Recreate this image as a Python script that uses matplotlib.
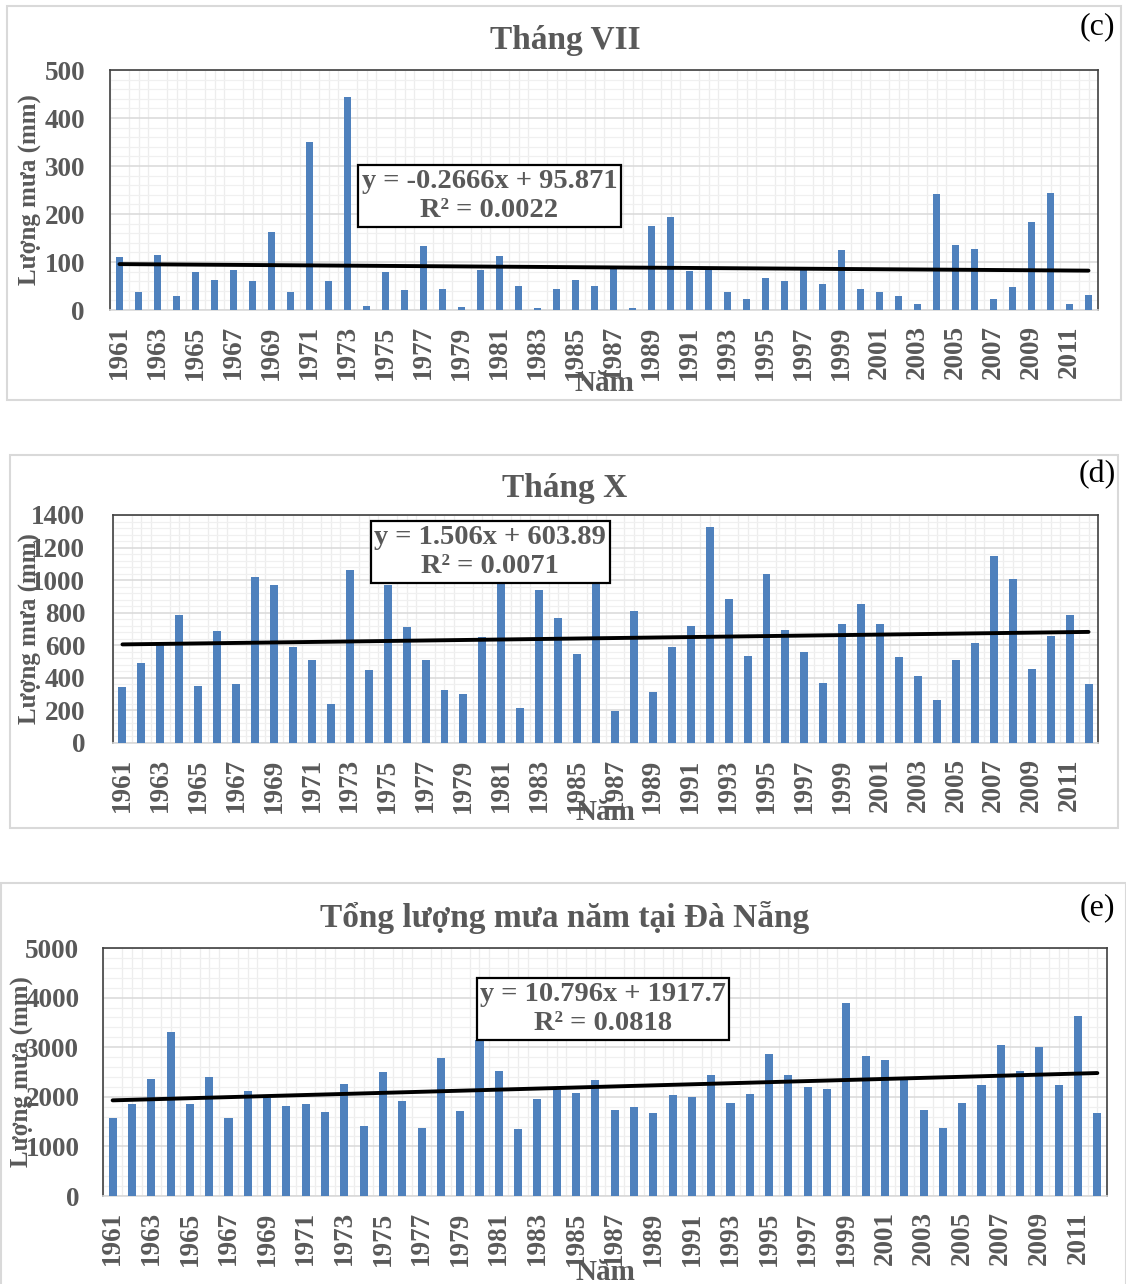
import numpy as np
import matplotlib
matplotlib.use("Agg")
import matplotlib.pyplot as plt
from matplotlib.patches import Rectangle
from matplotlib.ticker import MultipleLocator

plt.rcParams['font.family'] = ['Liberation Serif', 'DejaVu Serif']

years = list(range(1961, 2013))

# luong mua thang VII (mm)
thang7 = [110, 37, 115, 30, 79, 62, 83, 60, 163, 37,
          350, 60, 443, 9, 79, 41, 134, 43, 6, 83,
          112, 49, 4, 43, 62, 51, 86, 4, 174, 193,
          81, 90, 37, 23, 66, 60, 83, 54, 126, 43,
          37, 30, 13, 241, 136, 128, 23, 47, 184, 243,
          13, 32]

# luong mua thang X (mm)
thang10 = [342, 492, 621, 784, 348, 687, 360, 1017, 973, 587,
           508, 239, 1064, 449, 969, 712, 508, 323, 298, 652,
           1010, 214, 938, 766, 549, 1000, 198, 813, 311, 587,
           718, 1327, 885, 533, 1035, 694, 558, 370, 731, 856,
           731, 527, 412, 263, 508, 617, 1148, 1004, 455, 659,
           784, 364]

# tong luong mua nam (mm)
tong_nam = [1578, 1862, 2367, 3305, 1862, 2408, 1578, 2111, 1976, 1814,
            1862, 1686, 2266, 1410, 2496, 1922, 1362, 2792, 1706, 3150,
            2516, 1342, 1963, 2145, 2071, 2347, 1727, 1794, 1666, 2044,
            2003, 2448, 1875, 2064, 2853, 2448, 2192, 2152, 3899, 2813,
            2752, 2350, 1727, 1362, 1875, 2239, 3049, 2516, 3008, 2239,
            3622, 1666]

# duong xu the tuyen tinh: he so goc, he so tu do, R2
trend7 = (-0.2666, 95.871, 0.0022)
trend10 = (1.506, 603.89, 0.0071)
trend_nam = (10.796, 1917.7, 0.0818)

W, H = 1126, 1284
fig = plt.figure(figsize=(W / 100, H / 100), dpi=100)

gray = '#595959'
blue = '#4f81bd'


def px_rect(x0, y0, x1, y1):
    return [x0 / W, 1 - y1 / H, (x1 - x0) / W, (y1 - y0) / H]


def panel(box, frame, values, coef, ymax, ystep, title, tag, title_y, tag_y,
          eq_pos, xlab_y, ylab_x, ypad):
    # khung ngoai cua bieu do
    fx0, fy0, fx1, fy1 = frame
    fig.patches.append(Rectangle((fx0 / W, 1 - fy1 / H), (fx1 - fx0) / W,
                                 (fy1 - fy0) / H, transform=fig.transFigure,
                                 fill=False, edgecolor='#d9d9d9', lw=1.5))
    ax = fig.add_axes(px_rect(*box))
    x = np.arange(len(values))
    ax.bar(x, values, width=0.42, color=blue, zorder=3)
    slope, icpt, r2 = coef
    xi = x + 1
    ax.plot(x, slope * xi + icpt, color='black', lw=2.8, zorder=4,
            solid_capstyle='round')

    ax.set_xlim(-0.5, len(values) - 0.5)
    ax.set_ylim(0, ymax)
    ax.yaxis.set_major_locator(MultipleLocator(ystep))
    ax.yaxis.set_minor_locator(MultipleLocator(ystep / 5))
    ax.set_xticks(x[::2])
    ax.set_xticklabels([str(y) for y in years[::2]], rotation=90,
                       fontsize=19.5, fontweight='bold', color=gray)
    ax.set_xticks(np.arange(-0.5, len(values), 0.5), minor=True)
    for lab in ax.get_yticklabels():
        lab.set_fontsize(19.5)
        lab.set_fontweight('bold')
        lab.set_color(gray)
    ax.tick_params(axis='both', which='both', length=0)
    ax.tick_params(axis='y', pad=ypad)
    ax.tick_params(axis='x', pad=11)

    ax.grid(axis='y', which='major', color='#d9d9d9', lw=1.1, zorder=0)
    ax.grid(axis='y', which='minor', color='#f0f0f0', lw=0.9, zorder=0)
    ax.grid(axis='x', which='minor', color='#ededed', lw=0.9, zorder=0)
    ax.set_axisbelow(True)
    for side in ['left', 'top', 'right']:
        ax.spines[side].set_color('#404040')
        ax.spines[side].set_linewidth(1.2)
    ax.spines['bottom'].set_color('#d9d9d9')
    ax.spines['bottom'].set_linewidth(1.2)

    sign = '-' if slope < 0 else ''
    eq = f"y = {sign}{abs(slope)}x + {icpt}\nR² = {r2}"
    ax.text(eq_pos[0], eq_pos[1], eq, transform=ax.transAxes, ha='center',
            va='center', fontsize=20.5, fontweight='bold', color=gray,
            linespacing=1.25, zorder=6,
            bbox=dict(boxstyle='square,pad=0.12', facecolor='white',
                      edgecolor='black', lw=1.6))

    cx = (box[0] + box[2]) / 2
    fig.text(565 / W, 1 - title_y / H, title, ha='center', va='center',
             fontsize=24, fontweight='bold', color=gray)
    fig.text(1097 / W, 1 - tag_y / H, tag, ha='center', va='center',
             fontsize=23, color='black')
    fig.text(cx / W, 1 - xlab_y / H, 'Năm', ha='center', va='center',
             fontsize=21, fontweight='bold', color=gray)
    fig.text(ylab_x / W, 1 - ((box[1] + box[3]) / 2) / H, 'Lượng mưa (mm)',
             ha='center', va='center', rotation=90, fontsize=18,
             fontweight='bold', color=gray)
    return ax


panel((110, 70, 1098, 310), (7, 6, 1121, 400), thang7, trend7, 500, 100,
      'Tháng VII', '(c)', 40, 27, (0.384, 0.475), 383, 30, 18)
panel((113, 515, 1098, 743), (10, 455, 1118, 828), thang10, trend10, 1400, 200,
      'Tháng X', '(d)', 488, 475, (0.383, 0.838), 812, 30, 20)
panel((103, 948, 1107, 1196), (1, 883, 1126, 1300), tong_nam, trend_nam, 5000, 1000,
      'Tổng lượng mưa năm tại Đà Nẵng', '(e)', 918, 908, (0.498, 0.754), 1272, 22, 17)

fig.savefig('out.png', dpi=100)
